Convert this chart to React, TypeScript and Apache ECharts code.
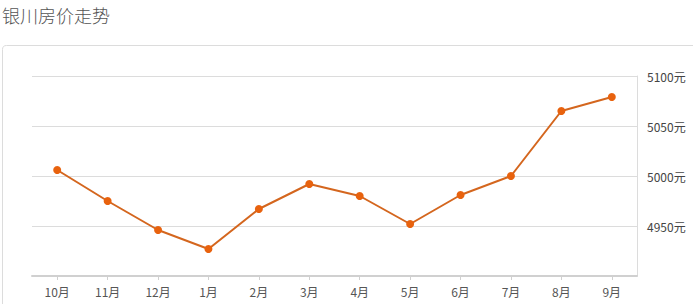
import React, { useEffect, useRef } from "react";
import * as echarts from "echarts";

const titleText = "银川房价走势";
const categories = ["10月", "11月", "12月", "1月", "2月", "3月", "4月", "5月", "6月", "7月", "8月", "9月"];
const prices = [5006, 4975, 4946, 4927, 4967, 4992, 4980, 4952, 4981, 5000, 5065, 5079];
const yMin = 4900;
const yMax = 5100;
const yInterval = 50;

export default function App() {
  const ref = useRef<HTMLDivElement>(null);
  useEffect(() => {
    document.body.style.margin = "0";
    const chart = echarts.init(ref.current!, undefined, { renderer: "svg" });
    chart.setOption({
      animation: false,
      backgroundColor: "#fff",
      textStyle: { fontFamily: "'Noto Sans CJK SC', 'Noto Sans', sans-serif" },
      graphic: [
        {
          type: "rect",
          shape: { x: 2.5, y: 45.5, width: 760, height: 320, r: 4 },
          style: { fill: "none", stroke: "#dcdcdc", lineWidth: 1 },
          silent: true,
        },
        {
          type: "text",
          x: 2,
          y: 6,
          style: {
            text: titleText,
            fontSize: 18,
            fontWeight: 300,
            fill: "#555",
            fontFamily: "'Noto Sans CJK SC', sans-serif",
          },
        },
      ],
      grid: { left: 32, right: 56, top: 76, bottom: 28 },
      xAxis: {
        type: "category",
        data: categories,
        boundaryGap: true,
        axisLine: { lineStyle: { color: "#d0d0d0", width: 2 } },
        axisTick: { show: true, alignWithLabel: true, length: 4, lineStyle: { color: "#d0d0d0" } },
        axisLabel: { color: "#555", fontSize: 12, margin: 9 },
        splitLine: { show: false },
      },
      yAxis: {
        type: "value",
        position: "right",
        min: yMin,
        max: yMax,
        interval: yInterval,
        axisLine: { show: true, lineStyle: { color: "#dcdcdc" } },
        axisTick: { show: false },
        axisLabel: {
          color: "#444",
          fontSize: 12,
          margin: 10,
          formatter: (v: number) => (v === yMin ? "" : v + "元"),
        },
        splitLine: { show: true, lineStyle: { color: "#dcdcdc" } },
      },
      series: [
        {
          type: "line",
          data: prices,
          symbol: "circle",
          symbolSize: 8,
          lineStyle: { color: "#d4661e", width: 2 },
          itemStyle: { color: "#e8620e" },
        },
      ],
    });
    return () => chart.dispose();
  }, []);
  return <div ref={ref} style={{ width: 693, height: 304 }} />;
}
